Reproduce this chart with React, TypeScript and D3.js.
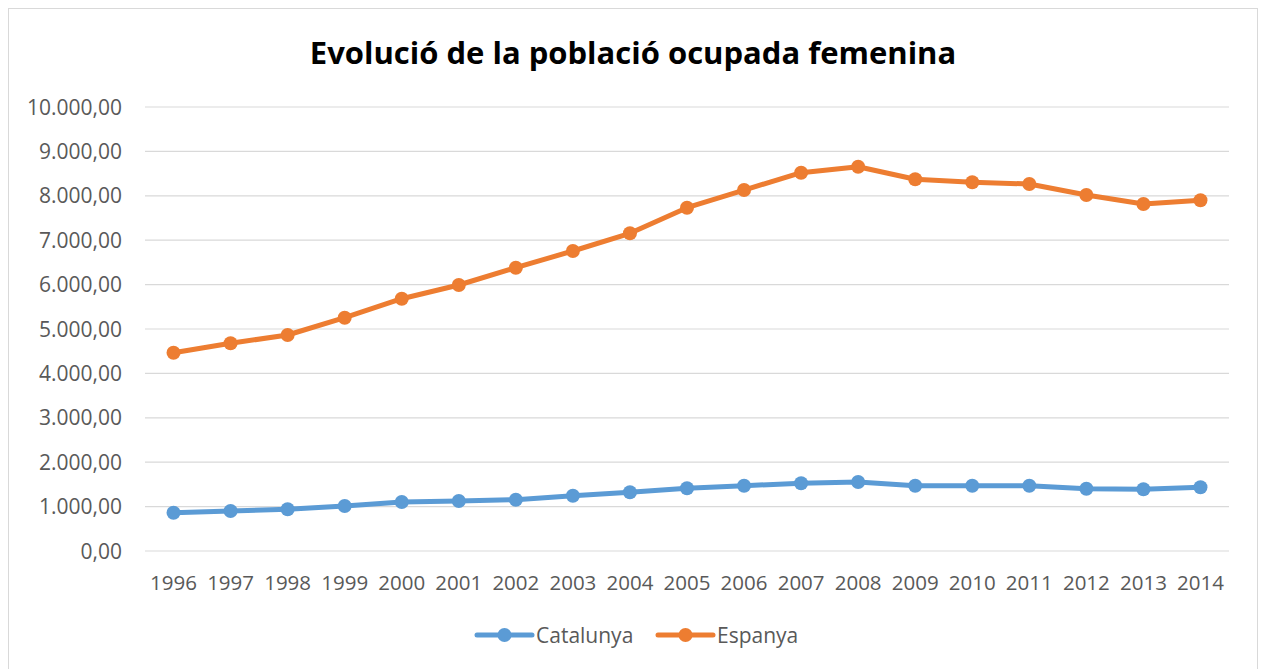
import React from "react";
import * as d3 from "d3";

const years = ["1996","1997","1998","1999","2000","2001","2002","2003","2004","2005","2006","2007","2008","2009","2010","2011","2012","2013","2014"];
const catalunya = [863, 901, 939, 1014, 1104, 1126, 1155, 1246, 1322, 1412, 1471, 1525, 1554, 1471, 1471, 1471, 1403, 1390, 1435];
const espanya = [4466, 4678, 4865, 5255, 5682, 5991, 6381, 6757, 7155, 7732, 8130, 8520, 8655, 8372, 8304, 8266, 8018, 7815, 7899];
const yTicks = [0, 1000, 2000, 3000, 4000, 5000, 6000, 7000, 8000, 9000, 10000];
const seriesNames = ["Catalunya", "Espanya"];
const seriesColors = ["#5B9BD5", "#ED7D31"];

const W = 1263;
const H = 669;
const FONT = "'Open Sans', 'Noto Sans', sans-serif";

export default function App() {
  const x = d3.scaleBand<string>().domain(years).range([145, 1229]);
  const cx = (d: string) => (x(d) as number) + x.bandwidth() / 2;
  const y = d3.scaleLinear().domain([0, 10000]).range([551, 107]);
  const locale = d3.formatLocale({ decimal: ",", thousands: ".", grouping: [3], currency: ["", "€"] });
  const fmt = locale.format(",.2f");
  const line = d3.line<number>().x((_, i) => cx(years[i])).y((v) => y(v));
  const data = [catalunya, espanya];

  const legendItems = [
    { lineX0: 477, lineX1: 532, textX: 536 },
    { lineX0: 658, lineX1: 713, textX: 717 },
  ];

  return (
    <svg width={W} height={H} style={{ position: "absolute", left: 0, top: 0, display: "block" }} fontFamily={FONT}>
      <rect x={0} y={0} width={W} height={H} fill="#fff" />
      <rect x={8.5} y={8.5} width={1249} height={700} fill="#fff" stroke="#D9D9D9" strokeWidth={1} />
      <text x={633} y={64} textAnchor="middle" fontSize={31} fontWeight={700} fill="#000">
        Evolució de la població ocupada femenina
      </text>
      {yTicks.map((t) => (
        <g key={t}>
          <line x1={145} x2={1229} y1={y(t)} y2={y(t)} stroke="#D9D9D9" strokeWidth={1.2} />
          <text x={122} y={y(t)} dy="0.36em" textAnchor="end" fontSize={21} fill="#595959">
            {fmt(t)}
          </text>
        </g>
      ))}
      {years.map((yr) => (
        <text key={yr} x={cx(yr)} y={590} textAnchor="middle" fontSize={20.5} fill="#595959">
          {yr}
        </text>
      ))}
      {data.map((s, si) => (
        <g key={si}>
          <path d={line(s) as string} fill="none" stroke={seriesColors[si]} strokeWidth={5} strokeLinejoin="round" strokeLinecap="round" />
          {s.map((v, i) => (
            <circle key={i} cx={cx(years[i])} cy={y(v)} r={7} fill={seriesColors[si]} />
          ))}
        </g>
      ))}
      {legendItems.map((li, i) => (
        <g key={i}>
          <line x1={li.lineX0} x2={li.lineX1} y1={635} y2={635} stroke={seriesColors[i]} strokeWidth={5} strokeLinecap="round" />
          <circle cx={(li.lineX0 + li.lineX1) / 2} cy={635} r={7} fill={seriesColors[i]} />
          <text x={li.textX} y={635} dy="0.36em" fontSize={21} fill="#595959">
            {seriesNames[i]}
          </text>
        </g>
      ))}
    </svg>
  );
}
